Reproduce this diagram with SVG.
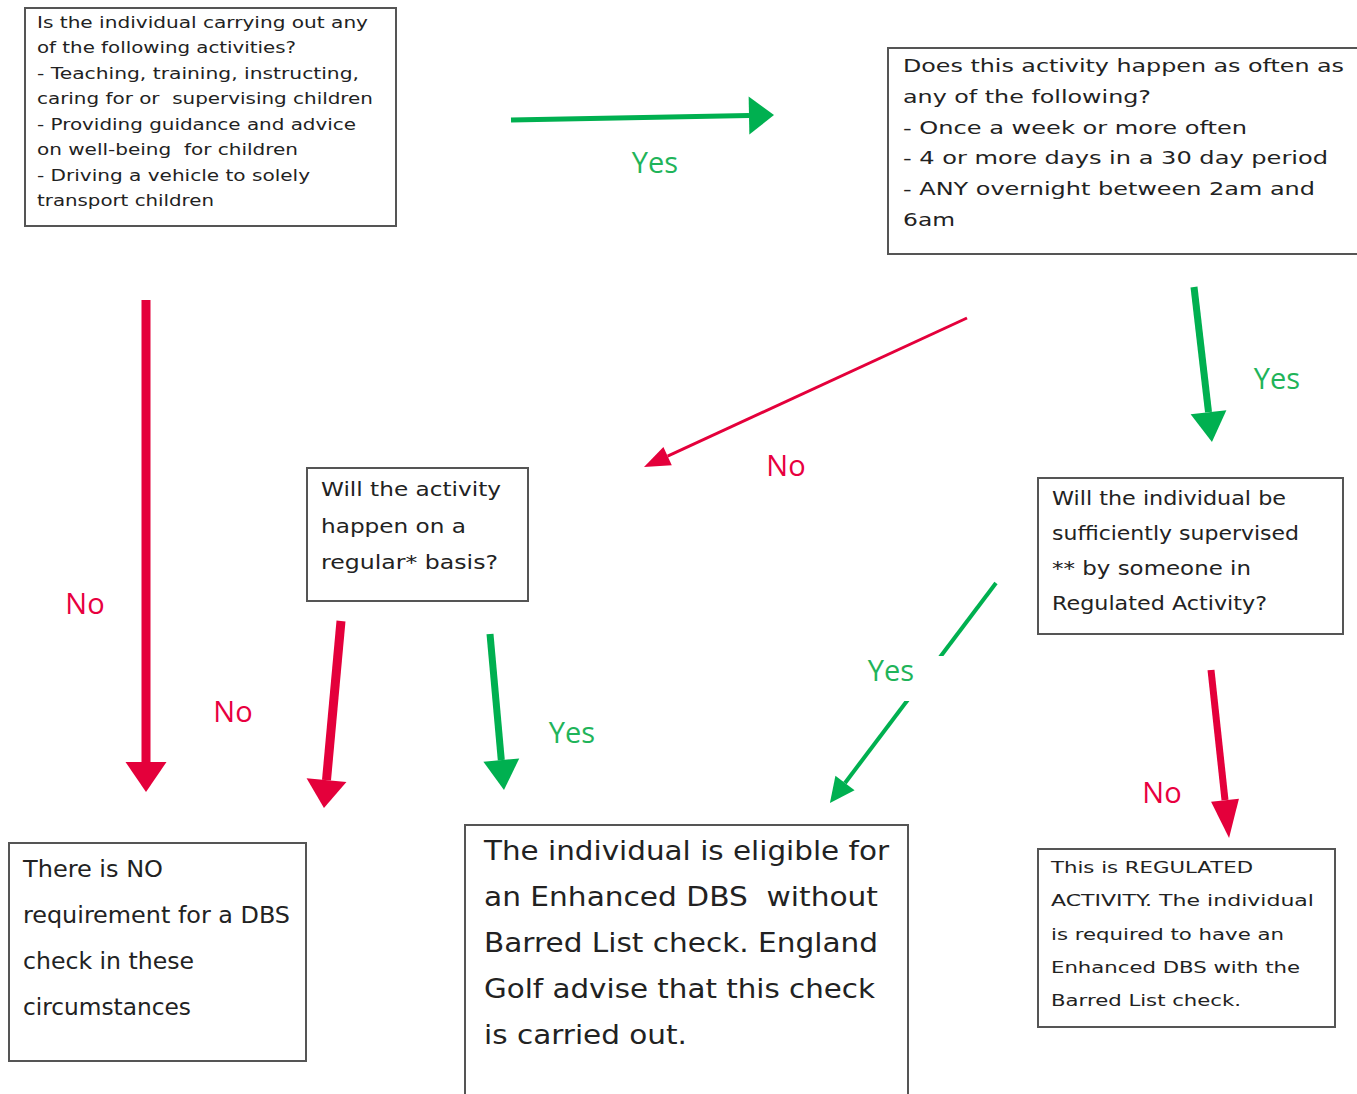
<svg xmlns="http://www.w3.org/2000/svg" width="1357" height="1094" viewBox="0 0 1357 1094">
<style>
.box{fill:#fff;stroke:#555;stroke-width:2}
.t{font-family:"DejaVu Sans","Liberation Sans",sans-serif;fill:#222;white-space:pre}
.tc{font-family:"DejaVu Sans Condensed","DejaVu Sans","Liberation Sans",sans-serif;fill:#222;font-stretch:condensed}
.lbl{font-family:"Open Sans","Liberation Sans",sans-serif;font-size:29px}
.g{fill:#1fb45a}
.r{fill:#e8003f}
.lg{stroke:#00b050;fill:none}
.lr{stroke:#e4003b;fill:none}
</style>
<defs>
<marker id="rBig" markerUnits="userSpaceOnUse" viewBox="0 -21 31 42" refX="0" refY="0" markerWidth="31" markerHeight="42" orient="auto" overflow="visible"><path d="M0,-20.5 L30,0 L0,20.5 Z" fill="#e4003b"/></marker>
<marker id="rMid" markerUnits="userSpaceOnUse" viewBox="0 -21 29 42" refX="0" refY="0" markerWidth="29" markerHeight="42" orient="auto" overflow="visible"><path d="M0,-20 L28,0 L0,20 Z" fill="#e4003b"/></marker>
<marker id="rLong" markerUnits="userSpaceOnUse" viewBox="0 -15 39 30" refX="0" refY="0" markerWidth="39" markerHeight="30" orient="auto" overflow="visible"><path d="M0,-14 L38,0 L0,14 Z" fill="#e4003b"/></marker>
<marker id="rSmall" markerUnits="userSpaceOnUse" viewBox="0 -11 27 22" refX="0" refY="0" markerWidth="27" markerHeight="22" orient="auto" overflow="visible"><path d="M0,-10 L26,0 L0,10 Z" fill="#e4003b"/></marker>
<marker id="gHoriz" markerUnits="userSpaceOnUse" viewBox="0 -20 26 40" refX="0" refY="0" markerWidth="26" markerHeight="40" orient="auto" overflow="visible"><path d="M0,-19 L25,0 L0,19 Z" fill="#00b050"/></marker>
<marker id="gBig" markerUnits="userSpaceOnUse" viewBox="0 -20 31 40" refX="0" refY="0" markerWidth="31" markerHeight="40" orient="auto" overflow="visible"><path d="M0,-18 L30,0 L0,18 Z" fill="#00b050"/></marker>
<marker id="gSmall" markerUnits="userSpaceOnUse" viewBox="0 -13 26 26" refX="0" refY="0" markerWidth="26" markerHeight="26" orient="auto" overflow="visible"><path d="M0,-12 L25,0 L0,12 Z" fill="#00b050"/></marker>
</defs>
<rect width="1357" height="1094" fill="#fff"/>

<g id="connectors">
  <line class="lg" x1="511" y1="120" x2="749" y2="115.5" stroke-width="5" marker-end="url(#gHoriz)"/>
  <line class="lr" x1="146" y1="300" x2="146" y2="762" stroke-width="9" marker-end="url(#rBig)"/>
  <line class="lr" x1="967" y1="318" x2="667.6" y2="456.1" stroke-width="3" marker-end="url(#rSmall)"/>
  <line class="lg" x1="1194" y1="287" x2="1208.5" y2="412.2" stroke-width="7" marker-end="url(#gBig)"/>
  <line class="lr" x1="341" y1="621" x2="326.5" y2="780.1" stroke-width="9" marker-end="url(#rMid)"/>
  <line class="lg" x1="490" y1="634" x2="501.3" y2="760.1" stroke-width="7" marker-end="url(#gBig)"/>
  <line class="lg" x1="996" y1="583" x2="845" y2="783" stroke-width="4" marker-end="url(#gSmall)"/>
  <rect x="858" y="656" width="86" height="45" fill="#fff"/>
  <line class="lr" x1="1211" y1="670" x2="1225" y2="800.2" stroke-width="7" marker-end="url(#rLong)"/>
  <text class="lbl g" x="655" y="173" text-anchor="middle">Yes</text>
  <text class="lbl r" x="85" y="614" text-anchor="middle">No</text>
  <text class="lbl r" x="786" y="476" text-anchor="middle">No</text>
  <text class="lbl g" x="1277" y="389" text-anchor="middle">Yes</text>
  <text class="lbl r" x="233" y="722" text-anchor="middle">No</text>
  <text class="lbl g" x="572" y="743" text-anchor="middle">Yes</text>
  <text class="lbl g" x="891" y="681" text-anchor="middle">Yes</text>
  <text class="lbl r" x="1162" y="803" text-anchor="middle">No</text>
</g>

<g id="node-activities">
  <rect class="box" x="25" y="8" width="371" height="218"/>
  <g class="t" font-size="16" fill="#333">
    <text x="37" y="27.5" textLength="331" lengthAdjust="spacingAndGlyphs">Is the individual carrying out any</text>
    <text x="37" y="53" textLength="259" lengthAdjust="spacingAndGlyphs">of the following activities?</text>
    <text x="37" y="78.5" textLength="322" lengthAdjust="spacingAndGlyphs">- Teaching, training, instructing,</text>
    <text x="37" y="104" textLength="336" lengthAdjust="spacingAndGlyphs" xml:space="preserve">caring for or  supervising children</text>
    <text x="37" y="129.5" textLength="319" lengthAdjust="spacingAndGlyphs">- Providing guidance and advice</text>
    <text x="37" y="155" textLength="261" lengthAdjust="spacingAndGlyphs" xml:space="preserve">on well-being  for children</text>
    <text x="37" y="180.5" textLength="273" lengthAdjust="spacingAndGlyphs">- Driving a vehicle to solely</text>
    <text x="37" y="206" textLength="177" lengthAdjust="spacingAndGlyphs">transport children</text>
  </g>
</g>

<g id="node-frequency">
  <rect class="box" x="888" y="48" width="470" height="206" stroke="#333"/>
  <g class="t" font-size="17.5">
    <text x="903" y="72" textLength="441" lengthAdjust="spacingAndGlyphs">Does this activity happen as often as</text>
    <text x="903" y="103" textLength="248" lengthAdjust="spacingAndGlyphs">any of the following?</text>
    <text x="903" y="133.5" textLength="344" lengthAdjust="spacingAndGlyphs">- Once a week or more often</text>
    <text x="903" y="164" textLength="425" lengthAdjust="spacingAndGlyphs">- 4 or more days in a 30 day period</text>
    <text x="903" y="195" textLength="412" lengthAdjust="spacingAndGlyphs">- ANY overnight between 2am and</text>
    <text x="903" y="225.5" textLength="52" lengthAdjust="spacingAndGlyphs">6am</text>
  </g>
</g>

<g id="node-regular">
  <rect class="box" x="307" y="468" width="221" height="133" stroke="#333"/>
  <g class="t" font-size="19">
    <text x="321" y="495.5" textLength="180" lengthAdjust="spacingAndGlyphs">Will the activity</text>
    <text x="321" y="532.5" textLength="145" lengthAdjust="spacingAndGlyphs">happen on a</text>
    <text x="321" y="569" textLength="177" lengthAdjust="spacingAndGlyphs">regular* basis?</text>
  </g>
</g>

<g id="node-supervised">
  <rect class="box" x="1038" y="478" width="305" height="156" stroke="#333"/>
  <g class="t" font-size="19">
    <text x="1052" y="505" textLength="234" lengthAdjust="spacingAndGlyphs">Will the individual be</text>
    <text x="1052" y="540" textLength="247" lengthAdjust="spacingAndGlyphs">sufficiently supervised</text>
    <text x="1052" y="574.5" textLength="199" lengthAdjust="spacingAndGlyphs">** by someone in</text>
    <text x="1052" y="609.5" textLength="215" lengthAdjust="spacingAndGlyphs">Regulated Activity?</text>
  </g>
</g>

<g id="node-no-requirement">
  <rect class="box" x="9" y="843" width="297" height="218" stroke="#333"/>
  <g class="tc" font-size="23">
    <text x="23" y="877" textLength="140" lengthAdjust="spacingAndGlyphs">There is NO</text>
    <text x="23" y="923" textLength="267" lengthAdjust="spacingAndGlyphs">requirement for a DBS</text>
    <text x="23" y="969" textLength="171" lengthAdjust="spacingAndGlyphs">check in these</text>
    <text x="23" y="1015" textLength="168" lengthAdjust="spacingAndGlyphs">circumstances</text>
  </g>
</g>

<g id="node-enhanced">
  <rect class="box" x="465" y="825" width="443" height="280" stroke="#111"/>
  <g class="t" font-size="26">
    <text x="484" y="860" textLength="405" lengthAdjust="spacingAndGlyphs">The individual is eligible for</text>
    <text x="484" y="906" textLength="394" lengthAdjust="spacingAndGlyphs" xml:space="preserve">an Enhanced DBS  without</text>
    <text x="484" y="952" textLength="394" lengthAdjust="spacingAndGlyphs">Barred List check. England</text>
    <text x="484" y="998" textLength="391" lengthAdjust="spacingAndGlyphs">Golf advise that this check</text>
    <text x="484" y="1044" textLength="203" lengthAdjust="spacingAndGlyphs">is carried out.</text>
  </g>
</g>

<g id="node-regulated">
  <rect class="box" x="1038" y="849" width="297" height="178" stroke="#333"/>
  <g class="t" font-size="16.5">
    <text x="1051" y="872.5" textLength="202" lengthAdjust="spacingAndGlyphs">This is REGULATED</text>
    <text x="1051" y="906" textLength="263" lengthAdjust="spacingAndGlyphs">ACTIVITY. The individual</text>
    <text x="1051" y="939.5" textLength="233" lengthAdjust="spacingAndGlyphs">is required to have an</text>
    <text x="1051" y="972.5" textLength="249" lengthAdjust="spacingAndGlyphs">Enhanced DBS with the</text>
    <text x="1051" y="1006" textLength="190" lengthAdjust="spacingAndGlyphs">Barred List check.</text>
  </g>
</g>
</svg>
